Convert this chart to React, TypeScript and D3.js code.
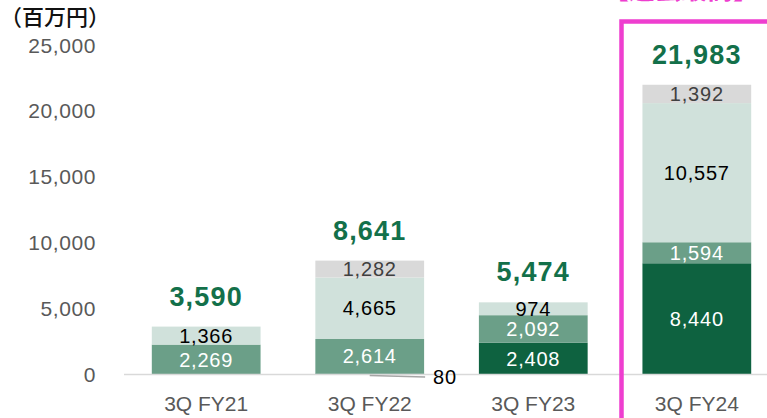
import React from "react";
import * as d3 from "d3";

const categories = ["3Q FY21", "3Q FY22", "3Q FY23", "3Q FY24"];
const seriesKeys = ["s1", "s2", "s3", "s4"];
const s1 = [0, 80, 2408, 8440];
const s2 = [2269, 2614, 2092, 1594];
const s3 = [1366, 4665, 974, 10557];
const s4 = [0, 1282, 0, 1392];
const totals = [3590, 8641, 5474, 21983];
const yTicks = [0, 5000, 10000, 15000, 20000, 25000];

const W = 767;
const H = 418;
const colors = ["#0E6240", "#6B9F88", "#D0E1DB", "#D9D9D9"];
const labelColors = ["#FFFFFF", "#FFFFFF", "#000000", "#404040"];
const font = "'Liberation Sans', Arial, sans-serif";

export default function App() {
  const rows = categories.map((c, i) => ({ cat: c, s1: s1[i], s2: s2[i], s3: s3[i], s4: s4[i] }));
  const stack = d3.stack<any>().keys(seriesKeys);
  const stacked = stack(rows);

  const x = d3.scaleBand().domain(categories).range([124, 779]).paddingInner(0.335).paddingOuter(0.17);
  const y = d3.scaleLinear().domain([0, 25000]).range([374.5, 45]);
  const fmt = d3.format(",");

  return (
    <svg width={W} height={H} style={{ position: "absolute", left: 0, top: 0, background: "#fff" }}>
      {/* unit label */}
      <text x={0} y={25} fontSize={22} fontFamily="'Noto Sans CJK JP', sans-serif" fontWeight={500} fill="#111">
        （百万円）
      </text>

      {/* y tick labels */}
      {yTicks.map((t) => (
        <text key={t} x={96} y={y(t)} dy="0.36em" textAnchor="end" fontSize={21} letterSpacing={0.6} fontFamily={font} fill="#595959">
          {fmt(t)}
        </text>
      ))}

      {/* bars */}
      {stacked.map((layer, li) =>
        layer.map((d, i) => {
          const v = d[1] - d[0];
          if (v <= 0) return null;
          return (
            <rect key={`${li}-${i}`} x={x(categories[i])} width={x.bandwidth()} y={y(d[1])} height={y(d[0]) - y(d[1])} fill={colors[li]} />
          );
        })
      )}

      {/* axis line */}
      <line x1={124} x2={W} y1={374.5} y2={374.5} stroke="#D9D9D9" strokeWidth={1.5} />

      {/* segment labels */}
      {stacked.map((layer, li) =>
        layer.map((d, i) => {
          const v = d[1] - d[0];
          if (v < 500) return null;
          const cx = (x(categories[i]) as number) + x.bandwidth() / 2;
          const cy = (y(d[0]) + y(d[1])) / 2;
          return (
            <text key={`l${li}-${i}`} x={cx} y={cy} dy="0.36em" textAnchor="middle" fontSize={20} letterSpacing={0.8} fontFamily={font} fill={labelColors[li]}>
              {fmt(v)}
            </text>
          );
        })
      )}

      {/* callout for small value */}
      {categories.map((c, i) => {
        const v = s1[i];
        if (v <= 0 || v >= 500) return null;
        const cx = (x(c) as number) + x.bandwidth() / 2;
        const x2 = (x(c) as number) + x.bandwidth() + 1;
        return (
          <g key={`c${i}`}>
            <line x1={cx} y1={375.5} x2={x2} y2={377} stroke="#A6A6A6" strokeWidth={1.5} />
            <text x={x2 + 8} y={377} dy="0.36em" fontSize={20} letterSpacing={0.8} fontFamily={font} fill="#000">
              {fmt(v)}
            </text>
          </g>
        );
      })}

      {/* totals */}
      {categories.map((c, i) => {
        const cx = (x(c) as number) + x.bandwidth() / 2;
        return (
          <text key={`t${i}`} x={cx} y={y(Math.max(totals[i], s1[i] + s2[i] + s3[i] + s4[i])) - 21} textAnchor="middle" fontSize={27} fontWeight="bold" letterSpacing={1.2} fontFamily={font} fill="#13704A">
            {fmt(totals[i])}
          </text>
        );
      })}

      {/* category labels */}
      {categories.map((c) => (
        <text key={c} x={(x(c) as number) + x.bandwidth() / 2} y={403.5} dy="0.36em" textAnchor="middle" fontSize={21} fontFamily={font} fill="#595959">
          {c}
        </text>
      ))}

      {/* highlight box */}
      <rect x={621.5} y={21.5} width={200} height={500} fill="none" stroke="#EE3ECF" strokeWidth={4.5} />
      <text x={603} y={-1.5} fontSize={26} fontWeight="bold" fontFamily="'Noto Sans CJK JP', sans-serif" fill="#EE3ECF">
        【過去最高】
      </text>
    </svg>
  );
}
